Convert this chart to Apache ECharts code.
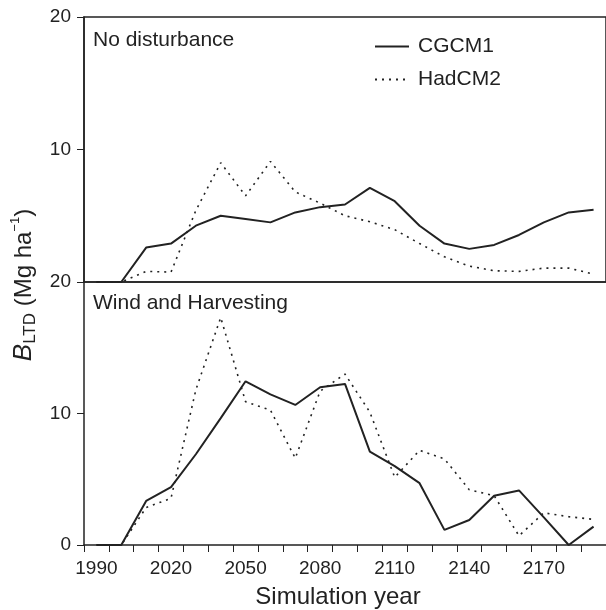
<!DOCTYPE html>
<html>
<head>
<meta charset="utf-8">
<script src="https://cdn.jsdelivr.net/npm/echarts@6.0.0/dist/echarts.min.js"></script>
<style>
  html, body { margin: 0; padding: 0; background: #fff; }
  #chart { width: 606px; height: 610px; }
</style>
</head>
<body>
<div id="chart"></div>
<script>
const years = ['1990', '2000', '2010', '2020', '2030', '2040', '2050', '2060', '2070', '2080', '2090',
  '2100', '2110', '2120', '2130', '2140', '2150', '2160', '2170', '2180', '2190'];

// No disturbance panel
const noDistCGCM1 = [0, 0, 2.6, 2.9, 4.25, 5.0, 4.75, 4.5, 5.25, 5.65, 5.85, 7.1, 6.1, 4.25, 2.9, 2.5, 2.8, 3.55, 4.5, 5.25, 5.45];
const noDistHadCM2 = [0, 0, 0.8, 0.75, 5.4, 9.0, 6.5, 9.1, 6.8, 5.95, 5.0, 4.55, 3.95, 2.9, 1.9, 1.2, 0.85, 0.8, 1.05, 1.05, 0.6];

// Wind and Harvesting panel
const windCGCM1 = [0, 0, 3.35, 4.4, 6.9, 9.65, 12.45, 11.45, 10.65, 12.0, 12.25, 7.1, 6.0, 4.7, 1.15, 1.9, 3.75, 4.15, 2.1, 0, 1.4];
const windHadCM2 = [0, 0, 2.85, 3.55, 11.8, 17.3, 10.9, 10.25, 6.6, 11.7, 13.0, 10.1, 5.15, 7.2, 6.55, 4.2, 3.75, 0.7, 2.45, 2.15, 1.95];

const yTicks = [0, 10, 20];

const FONT = 'Liberation Sans, Arial, Helvetica, sans-serif';
const INK = '#222';

const chart = echarts.init(document.getElementById('chart'));

const xAxisBase = {
  type: 'category',
  data: years,
  boundaryGap: true,
  axisLine: { lineStyle: { color: INK, width: 1.5 } },
  splitLine: { show: false }
};

const yAxisBase = {
  type: 'value',
  min: yTicks[0],
  max: yTicks[yTicks.length - 1],
  interval: yTicks[1] - yTicks[0],
  axisLine: { show: true, lineStyle: { color: INK, width: 1.5 } },
  axisTick: { show: true, length: 7, lineStyle: { color: INK, width: 1 } },
  splitLine: { show: false },
  axisLabel: { color: INK, fontFamily: FONT, fontSize: 19, margin: 13 }
};

const solid = { color: INK, width: 2, type: 'solid' };
const dotted = { color: INK, width: 1.6, type: [2, 5] };

chart.setOption({
  animation: false,
  grid: [
    { left: 84, right: -1, top: 17, height: 265, show: true, borderColor: INK, borderWidth: 1.5 },
    { left: 84, right: -1, top: 282, height: 263 }
  ],
  legend: {
    data: ['CGCM1', 'HadCM2'],
    orient: 'vertical',
    left: 369,
    top: 31,
    itemWidth: 34,
    itemHeight: 14,
    itemGap: 12,
    itemStyle: { opacity: 0 },
    textStyle: { color: INK, fontFamily: FONT, fontSize: 21, lineHeight: 21, padding: [0, 0, 0, 4] }
  },
  xAxis: [
    Object.assign({}, xAxisBase, {
      gridIndex: 0,
      axisTick: { show: false },
      axisLabel: { show: false }
    }),
    Object.assign({}, xAxisBase, {
      gridIndex: 1,
      axisTick: { show: true, interval: 0, length: 7, alignWithLabel: false, lineStyle: { color: INK, width: 1 } },
      axisLabel: { interval: 2, color: INK, fontFamily: FONT, fontSize: 19, margin: 14 },
      name: 'Simulation year',
      nameLocation: 'middle',
      nameGap: 40,
      nameTextStyle: { color: INK, fontFamily: FONT, fontSize: 24, padding: [0, 14, 0, 0] }
    })
  ],
  yAxis: [
    Object.assign({}, yAxisBase, {
      gridIndex: 0,
      axisLabel: Object.assign({}, yAxisBase.axisLabel, {
        formatter: v => (v === 0 ? '' : String(v))
      })
    }),
    Object.assign({}, yAxisBase, { gridIndex: 1 })
  ],
  graphic: [
    {
      type: 'text', left: 93, top: 30,
      style: { text: 'No disturbance', fill: INK, font: '21px ' + FONT }
    },
    {
      type: 'text', left: 93, top: 293,
      style: { text: 'Wind and Harvesting', fill: INK, font: '21px ' + FONT }
    },
    {
      type: 'text', x: 24, y: 285, rotation: Math.PI / 2,
      style: {
        text: '{b|B}{sub|LTD}{n| (Mg ha}{sup|−1}{n|)}',
        align: 'center',
        verticalAlign: 'middle',
        fill: INK,
        rich: {
          b: { fontFamily: FONT, fontSize: 26, fontStyle: 'italic', lineHeight: 30, fill: INK },
          n: { fontFamily: FONT, fontSize: 24, lineHeight: 30, fill: INK },
          sub: { fontFamily: FONT, fontSize: 17, lineHeight: 21, verticalAlign: 'bottom', fill: INK },
          sup: { fontFamily: FONT, fontSize: 13, lineHeight: 16, verticalAlign: 'top', fill: INK }
        }
      }
    }
  ],
  series: [
    { name: 'CGCM1', type: 'line', xAxisIndex: 0, yAxisIndex: 0, data: noDistCGCM1, symbol: 'none', lineStyle: solid, itemStyle: { color: INK } },
    { name: 'HadCM2', type: 'line', xAxisIndex: 0, yAxisIndex: 0, data: noDistHadCM2, symbol: 'none', lineStyle: dotted, itemStyle: { color: INK } },
    { name: 'CGCM1', type: 'line', xAxisIndex: 1, yAxisIndex: 1, data: windCGCM1, symbol: 'none', lineStyle: solid, itemStyle: { color: INK } },
    { name: 'HadCM2', type: 'line', xAxisIndex: 1, yAxisIndex: 1, data: windHadCM2, symbol: 'none', lineStyle: dotted, itemStyle: { color: INK } }
  ]
});
</script>
</body>
</html>
